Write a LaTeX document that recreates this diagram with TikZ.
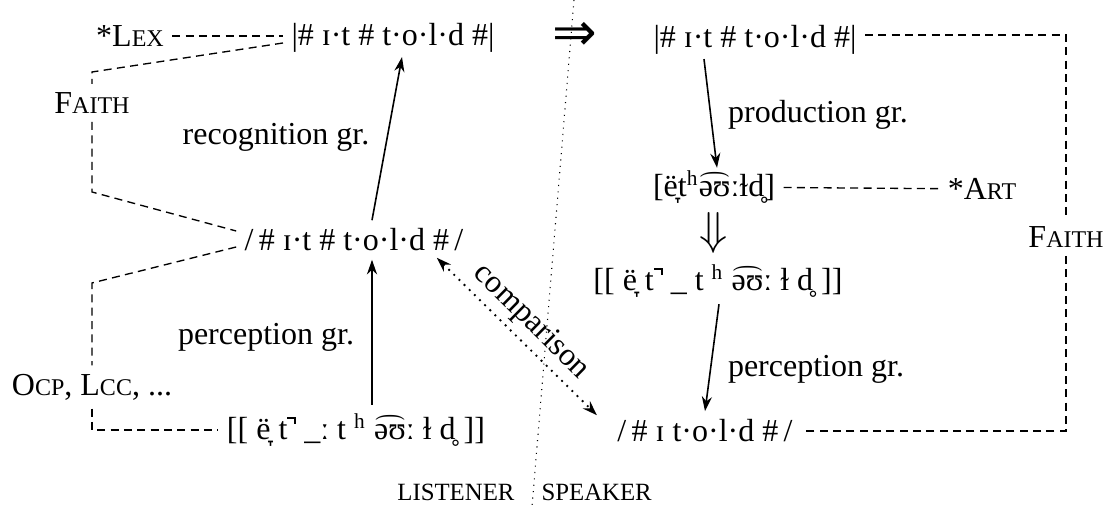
\documentclass[tikz,border=0pt]{standalone}
\usepackage{fontspec}
\usepackage{graphicx}
\setmainfont{Liberation Serif}
\newfontfamily\symfont{DejaVu Sans}
\usetikzlibrary{arrows.meta, calc}
\newcommand\fsc[2]{#1{\fontsize{9}{11}\selectfont #2}}
\newcommand\unrel{\rule[1.4ex]{0.28em}{0.06em}\llap{\rule[1.1ex]{0.06em}{0.36ex}}}
\newcommand\tiebar[1]{\setbox0\hbox{#1}\leavevmode\rlap{\hbox to\wd0{\hss\raisebox{\dimexpr\ht0+1.6pt\relax}{\resizebox{0.92\wd0}{2.2pt}{\rotatebox{90}{)}}}\hss}}\box0}

\begin{document}
\begin{tikzpicture}[
    x=0.375pt, y=-0.375pt,
    every node/.style={inner sep=3pt, font=\fontsize{12}{14}\selectfont},
    link/.style={dash pattern=on 3pt off 2pt, line width=0.5pt},
    grm/.style={-{Stealth[length=5.5pt, width=3.8pt]}, line width=0.6pt},
]
    \useasboundingbox (0,0) rectangle (1114,507);

    % listener | speaker
    \coordinate (divT) at (574,0);
    \coordinate (divB) at (532,507);
    \draw[dotted, line width=0.4pt] (divT) -- (divB);
    \node[anchor=east, inner sep=0pt] (lis) at (515,492) {\fontsize{9.3}{11}\selectfont LISTENER};
    \node[anchor=west, inner sep=0pt] (spk) at (541,492) {\fontsize{9.3}{11}\selectfont SPEAKER};

    % listener side
    \node (lexC) at (130,36) {*\fsc{L}{EX}};
    \node (lexL) at (393,38) {|\#\ ɪ·t\ \#\ t·o·l·d\ \#|};
    \node (faithL) at (92,103) {\fsc{F}{AITH}};
    \node (undL) at (354,240) {/\,\#\ ɪ·t\ \#\ t·o·l·d\ \#\,/};
    \node (ocp) at (92,387) {\fsc{O}{CP}, \fsc{L}{CC}, ...};
    \node (ovtL) at (356,430) {[[\ e^^^^0308^^^^031e\ t\unrel\ \_ː\ t\ \textsuperscript{h}\ \tiebar{əʊ}ː\ ɫ\ d^^^^0325\ ]]};
    \node (recL) at (276,137) {recognition gr.};
    \node (perL) at (266,337) {perception gr.};

    % speaker side
    \node (imp) at (575,36) {\symfont\fontsize{20}{22}\selectfont ⇒};
    \node (lexR) at (755,40) {|\#\ ɪ·t\ \#\ t·o·l·d\ \#|};
    \node (proR) at (818,115) {production gr.};
    \node (artR) at (714,187) {[e^^^^0308^^^^031et\textsuperscript{h}\tiebar{əʊ}ːɫd^^^^0325]};
    \node (artC) at (982,189) {*\fsc{A}{RT}};
    \node (dn) at (714,233) {\fontsize{16}{18}\selectfont$\Downarrow$};
    \node (audR) at (718,281) {[[\ e^^^^0308^^^^031e\ t\unrel\ \_\ t\ \textsuperscript{h}\ \tiebar{əʊ}ː\ ɫ\ d^^^^0325\ ]]};
    \node (perR) at (816,369) {perception gr.};
    \node (undR) at (705,431) {/\,\#\ ɪ\ t·o·l·d\ \#\,/};
    \node (faithR) at (1066,237) {\fsc{F}{AITH}};

    % constraints
    \draw[link] (lexC) -- (lexC -| lexL.west);
    \draw[link] ($(lexL.west)+(0,5)$) -- (92,72) -- (faithL.north);
    \draw[link] (faithL.south) -- (92,192) -- ($(undL.west)+(0,-9)$);
    \draw[link] ($(undL.west)+(0,7)$) -- (92,283) -- (ocp.north);
    \draw[link] (ocp.south) -- (ocp.south |- ovtL.west) -- (ovtL.west);
    \draw[link] (artR) -- (artC);
    \draw[link] ($(lexR.east)+(0,-5)$) -- (faithR.north |- 0,35) -- (faithR.north);
    \draw[link] (faithR.south) -- (faithR.south |- undR.east) -- (undR.east);

    % grammars
    \draw[grm] ($(undL.north)+(18,0)$) -- ($(lexL.south)+(9,-4)$);
    \draw[grm] ($(ovtL.north)+(16,0)$) -- ($(undL.south)+(18,0)$);
    \draw[grm] ($(lexR.south)+(-51,-4)$) -- ($(artR.north)+(3,6)$);
    \draw[grm] ($(audR.south)+(1,-2)$) -- (undR.north);

    % comparison
    \draw[{Stealth[length=5.5pt, width=3.8pt]}-{Stealth[length=5.5pt, width=3.8pt]}, dotted, line width=0.7pt]
        ($(undL.south east)+(-35,-2)$) -- node[above, sloped, pos=0.5, inner sep=2pt] {comparison} ($(undR.north west)+(-12,4)$);
\end{tikzpicture}
\end{document}
